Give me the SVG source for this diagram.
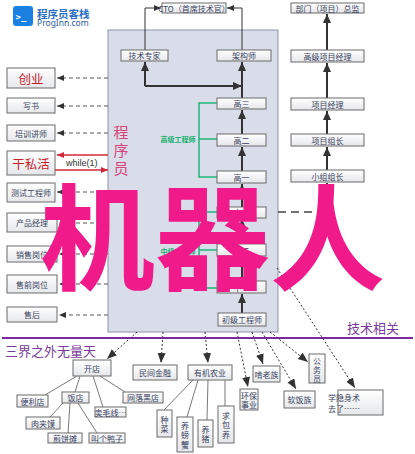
<svg xmlns="http://www.w3.org/2000/svg" width="415" height="454" viewBox="0 0 415 454">
<defs>
<linearGradient id="g" x1="0" y1="0" x2="0" y2="1"><stop offset="0" stop-color="#ffffff"/><stop offset="1" stop-color="#e6e7ea"/></linearGradient>
<marker id="ah" markerUnits="userSpaceOnUse" markerWidth="10" markerHeight="10" refX="9" refY="4" orient="auto"><path d="M0,0 L9,4 L0,8 Z" fill="#333"/></marker>
<marker id="ahs" markerUnits="userSpaceOnUse" markerWidth="8" markerHeight="8" refX="7" refY="3" orient="auto"><path d="M0,0 L7,3 L0,6 Z" fill="#333"/></marker>
<marker id="ahd" markerUnits="userSpaceOnUse" markerWidth="12" markerHeight="12" refX="10" refY="4" orient="auto"><path d="M0,0 L10,4 L0,8 Z" fill="#333"/></marker>
<marker id="ahr" markerUnits="userSpaceOnUse" markerWidth="8" markerHeight="8" refX="7" refY="3" orient="auto"><path d="M0,0 L7,3 L0,6 Z" fill="#d4263a"/></marker>
</defs>
<style>
.box{fill:url(#g);stroke:#6b6b6b;stroke-width:1}
.t{font-family:"Noto Sans CJK SC","Noto Sans",sans-serif;font-size:8px;fill:#3a4260;text-anchor:middle;dominant-baseline:central}
.red{font-family:"Noto Sans CJK SC",sans-serif;font-size:12.5px;fill:#c8232c;text-anchor:middle;dominant-baseline:central}
.solid{fill:none;stroke:#333;stroke-width:2;marker-end:url(#ah)}
.thin{fill:none;stroke:#333;stroke-width:1;marker-end:url(#ahs)}
.dash{fill:none;stroke:#555;stroke-width:1;stroke-dasharray:4,3;marker-end:url(#ahs)}
.dot{fill:none;stroke:#333;stroke-width:1;stroke-dasharray:2,2;marker-end:url(#ahd)}
.tree{fill:none;stroke:#555;stroke-width:0.8}
.green{fill:none;stroke:#1fb57a;stroke-width:1.5}
.gt{font-family:"Noto Sans CJK SC",sans-serif;font-size:7px;font-weight:bold;fill:#17b06f;text-anchor:middle;dominant-baseline:central}
.pt{font-family:"Noto Sans CJK SC",sans-serif;font-size:13px;fill:#7a3c9a;dominant-baseline:central}
</style>

<g id="logo">
<rect x="13" y="6" width="20" height="20" rx="3" fill="#1a80e2"/>
<text x="15.5" y="17" font-family="DejaVu Sans Mono,monospace" font-size="9" font-weight="bold" fill="#fff" dominant-baseline="central">&gt;_</text>
<text x="37" y="13" font-family="Noto Sans CJK SC,sans-serif" font-size="10.5" font-weight="bold" fill="#2a6fc4" dominant-baseline="central">程序员客栈</text>
<text x="37" y="22.5" font-family="Noto Sans,sans-serif" font-size="8.5" fill="#2a5a9c" dominant-baseline="central">ProgInn.com</text>
</g>

<g id="programmer-area">
<rect x="108" y="30" width="170" height="302" fill="#d9dce9" stroke="#8d91a6" stroke-width="1"/>
<g font-family="Noto Sans CJK SC,sans-serif" font-size="15" fill="#d6467a" text-anchor="middle" dominant-baseline="central">
<text x="121" y="131">程</text><text x="121" y="149">序</text><text x="121" y="167">员</text>
</g>
</g>

<g id="connectors">
<path class="thin" d="M145,50 V8 H161"/>
<path class="thin" d="M242,50 V8 H227"/>
<path class="solid" d="M145,86 H242"/>
<path class="solid" d="M145,86 V62"/>
<path class="solid" d="M242,98 V62"/>
<path class="solid" d="M242,134 V110"/>
<path class="solid" d="M242,171 V147"/>
<path class="solid" d="M242,207 V184"/>
<path class="solid" d="M242,244 V219"/>
<path class="solid" d="M242,281 V256"/>
<path class="solid" d="M242,313 V294"/>
<path class="green" d="M217,103 H199 V177 H217 M199,139 H217"/>
<path class="green" d="M217,212 H199 V288 H217 M199,250 H217"/>
<path class="solid" d="M327,50 V14"/>
<path class="solid" d="M327,98 V63"/>
<path class="solid" d="M327,134 V111"/>
<path class="solid" d="M327,170 V147"/>
<path fill="none" stroke="#444" stroke-width="1.5" stroke-dasharray="8,5" d="M278,212 H327"/>
<path class="solid" d="M327,212 V183"/>
<path class="dash" d="M108,78 H57"/>
<path class="dash" d="M108,106 H57"/>
<path class="dash" d="M108,133 H57"/>
<path class="dash" d="M108,192 H57"/>
<path class="dash" d="M108,223 H59"/>
<path class="dash" d="M108,254 H59"/>
<path class="dash" d="M108,284 H59"/>
<path class="dash" d="M108,315 H59"/>
<path fill="none" stroke="#d4263a" stroke-width="1.3" marker-end="url(#ahr)" d="M108,155 H57"/>
<path fill="none" stroke="#d4263a" stroke-width="1.3" marker-end="url(#ahr)" d="M55,170 H108"/>
<path class="dot" d="M137,332 L107,359"/>
<path class="dot" d="M163,332 L161,363"/>
<path class="dot" d="M205,332 L208,363"/>
<path class="dot" d="M237,332 L248,387"/>
<path class="dot" d="M252,332 L263,364"/>
<path class="dot" d="M262,332 L296,389"/>
<path class="dot" d="M270,332 L308,362"/>
<path class="dot" d="M277,268 L355,388"/>
<path class="tree" d="M77,376 L45,395 M80,376 L75,392 M93,376 L103,407 M100,376 L125,392 M63,403 L50,417 M70,403 L68,433 M78,403 L97,433"/>
<path class="tree" d="M193,380 L164,410 M198,380 L187,417 M208,380 L207,420 M225,380 L225,406"/>
</g>

<g id="cto"><rect class="box" x="162" y="3" width="64" height="10"/><text class="t" x="194" y="8.3" font-size="7">CTO（首席技术官）</text></g>
<g id="tech-expert"><rect class="box" x="121" y="50" width="47" height="11"/><text class="t" x="144.5" y="55.7">技术专家</text></g>
<g id="architect"><rect class="box" x="217" y="50" width="54" height="11"/><text class="t" x="244" y="55.7">架构师</text></g>
<g id="gao3"><rect class="box" x="217" y="98" width="49" height="11"/><text class="t" x="241.5" y="103.7">高三</text></g>
<g id="gao2"><rect class="box" x="217" y="134" width="49" height="12"/><text class="t" x="241.5" y="140.2">高二</text></g>
<g id="gao1"><rect class="box" x="217" y="171" width="49" height="12"/><text class="t" x="241.5" y="177.2">高一</text></g>
<g id="senior-label"><text class="gt" x="178" y="139">高级工程师</text></g>
<g id="zhong3"><rect class="box" x="217" y="207" width="49" height="11"/><text class="t" x="241.5" y="212.7">中三</text></g>
<g id="zhong2"><rect class="box" x="217" y="244" width="49" height="12"/><text class="t" x="241.5" y="250.2">中二</text></g>
<g id="zhong1"><rect class="box" x="217" y="281" width="49" height="12"/><text class="t" x="241.5" y="287.2">中一</text></g>
<g id="mid-label"><text class="gt" x="178" y="251">中级工程师</text></g>
<g id="junior"><rect class="box" x="218" y="313" width="48" height="13"/><text class="t" x="242" y="319.7">初级工程师</text></g>

<g id="director"><rect class="box" x="291" y="3" width="73" height="10"/><text class="t" x="327.5" y="8.3" font-size="7.5">部门（项目）总监</text></g>
<g id="senior-pm"><rect class="box" x="291" y="50" width="73" height="12"/><text class="t" x="327.5" y="56.2">高级项目经理</text></g>
<g id="pm"><rect class="box" x="291" y="98" width="73" height="12"/><text class="t" x="327.5" y="104.2">项目经理</text></g>
<g id="team-lead"><rect class="box" x="291" y="134" width="73" height="12"/><text class="t" x="327.5" y="140.2">项目组长</text></g>
<g id="group-lead"><rect class="box" x="291" y="170" width="73" height="12"/><text class="t" x="327.5" y="176.2">小组组长</text></g>

<g id="startup"><rect class="box" x="7" y="68" width="48" height="20"/><text class="red" x="31" y="78.3">创业</text></g>
<g id="write-book"><rect class="box" x="7" y="98" width="48" height="15"/><text class="t" x="31" y="105.7">写书</text></g>
<g id="trainer"><rect class="box" x="7" y="125" width="48" height="16"/><text class="t" x="31" y="133.2">培训讲师</text></g>
<g id="side-job"><rect class="box" x="7" y="151" width="48" height="24"/><text class="red" x="31" y="163.3">干私活</text></g>
<g id="while-label"><text x="66" y="162.5" font-family="Liberation Sans,sans-serif" font-size="9" fill="#333" dominant-baseline="central">while(1)</text></g>
<g id="tester"><rect class="box" x="7" y="183" width="48" height="19"/><text class="t" x="31" y="192.7">测试工程师</text></g>
<g id="product"><rect class="box" x="7" y="213" width="50" height="19"/><text class="t" x="32" y="222.7">产品经理</text></g>
<g id="sales"><rect class="box" x="7" y="246" width="50" height="16"/><text class="t" x="32" y="254.2">销售岗位</text></g>
<g id="presales"><rect class="box" x="7" y="275" width="50" height="18"/><text class="t" x="32" y="284.2">售前岗位</text></g>
<g id="aftersales"><rect class="box" x="7" y="307" width="50" height="15"/><text class="t" x="32" y="314.7">售后</text></g>

<g id="divider">
<line x1="2" y1="338" x2="413" y2="338" stroke="#7a2a9a" stroke-width="2"/>
<text class="pt" x="347" y="327.5">技术相关</text>
<text class="pt" x="5" y="350" font-size="13.5">三界之外无量天</text>
</g>

<g id="shop"><rect class="box" x="73" y="360" width="38" height="16"/><text class="t" x="92" y="368.2">开店</text></g>
<g id="store"><rect class="box" x="17" y="395" width="31" height="12"/><text class="t" x="32.5" y="401.2">便利店</text></g>
<g id="restaurant"><rect class="box" x="62" y="392" width="27" height="11"/><text class="t" x="75.5" y="397.7">饭店</text></g>
<g id="black-shop"><rect class="box" x="123" y="392" width="40" height="11"/><text class="t" x="143" y="397.7">网落黑店</text></g>
<g id="yarn"><rect class="box" x="95" y="407" width="31" height="10"/><text class="t" x="110.5" y="412.2" font-size="7.5">卖毛线<tspan font-family="Liberation Sans,sans-serif">···</tspan></text></g>
<g id="roujiamo"><rect class="box" x="26" y="417" width="34" height="12"/><text class="t" x="43" y="423.2">肉夹馍</text></g>
<g id="pancake"><rect class="box" x="48" y="433" width="34" height="10"/><text class="t" x="65" y="438.2">煎饼摊</text></g>
<g id="duck"><rect class="box" x="89" y="433" width="36" height="10"/><text class="t" x="107" y="438.2">叫个鸭子</text></g>
<g id="finance"><rect class="box" x="133" y="365" width="44" height="15"/><text class="t" x="155" y="372.7">民间金融</text></g>
<g id="organic"><rect class="box" x="188" y="365" width="44" height="15"/><text class="t" x="210" y="372.7">有机农业</text></g>
<g id="eco"><rect class="box" x="240" y="389" width="18" height="21"/><text class="t" x="249" y="395">环保</text><text class="t" x="249" y="404.5">事业</text></g>
<g id="neet"><rect class="box" x="253" y="366" width="27" height="16"/><text class="t" x="266.5" y="374.2">啃老族</text></g>
<g id="civil"><rect class="box" x="309" y="354" width="16" height="29"/><text class="t" x="317" y="360">公</text><text class="t" x="317" y="369">务</text><text class="t" x="317" y="378">员</text></g>
<g id="gigolo"><rect class="box" x="284" y="391" width="31" height="17"/><text class="t" x="299.5" y="399.7">软饭族</text></g>
<g id="invisible"><rect class="box" x="338" y="390" width="45" height="25"/><text class="t" x="344" y="397.5" text-anchor="start">学隐身术</text><text class="t" x="344" y="408" text-anchor="start">去了……</text></g>
<g id="veg"><rect class="box" x="157" y="410" width="15" height="27"/><text class="t" x="164.5" y="419">种</text><text class="t" x="164.5" y="428.5">菜</text></g>
<g id="crab"><rect class="box" x="177" y="417" width="16" height="35"/><text class="t" x="185" y="425">养</text><text class="t" x="185" y="434.5">螃</text><text class="t" x="185" y="444">蟹</text></g>
<g id="pig"><rect class="box" x="198" y="420" width="15" height="27"/><text class="t" x="205.5" y="429">养</text><text class="t" x="205.5" y="438.5">猪</text></g>
<g id="kept"><rect class="box" x="218" y="406" width="16" height="37"/><text class="t" x="226" y="415">求</text><text class="t" x="226" y="424.5">包</text><text class="t" x="226" y="434">养</text></g>

<g id="watermark"><text x="40" y="281" font-family="Noto Sans CJK SC,sans-serif" font-size="115" font-weight="bold" fill="#f01a8a">机器人</text></g>
</svg>
